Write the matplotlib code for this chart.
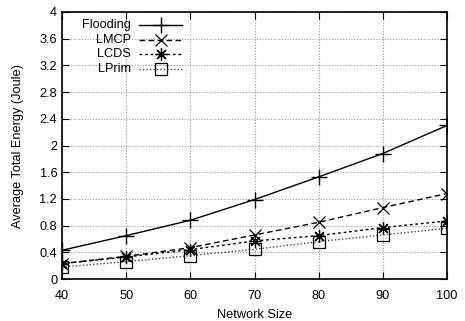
import matplotlib
matplotlib.use("Agg")
import matplotlib.pyplot as plt
from matplotlib.ticker import FuncFormatter
from matplotlib.lines import Line2D

plt.rcParams['font.family'] = ['Liberation Sans', 'DejaVu Sans']

network_size = [40, 50, 60, 70, 80, 90, 100]
flooding = [0.43, 0.65, 0.88, 1.19, 1.53, 1.88, 2.30]
lmcp = [0.23, 0.34, 0.47, 0.66, 0.85, 1.07, 1.28]
lcds = [0.23, 0.33, 0.44, 0.57, 0.65, 0.77, 0.87]
lprim = [0.18, 0.26, 0.35, 0.445, 0.56, 0.66, 0.76]
labels = ['Flooding', 'LMCP', 'LCDS', 'LPrim']

FS = 9.2

fig = plt.figure(figsize=(4.65, 3.21), dpi=100)
ax = fig.add_axes([62/465, 42/321, (447-62)/465, (279-12)/321])

styles = [
    dict(color='black', lw=1.0, ls='-', marker='+', ms=11, mew=1.0),
    dict(color='black', lw=1.0, ls=(0, (4, 2.5)), marker='x', ms=9, mew=0.9),
    dict(color='black', lw=1.0, ls=(0, (2, 2)), marker=(8, 2, 0), ms=9, mew=0.9),
    dict(color='#444444', lw=1.0, ls=(0, (1, 1.5)), marker='s', ms=9, mew=0.9, mfc='none', mec='black'),
]
series = [flooding, lmcp, lcds, lprim]
for vals, st, lab in zip(series, styles, labels):
    ax.plot(network_size, vals, label=lab, **st)

ax.set_xlim(40, 100)
ax.set_ylim(0, 4)
ax.set_xticks(network_size)
ax.set_yticks([0, 0.4, 0.8, 1.2, 1.6, 2, 2.4, 2.8, 3.2, 3.6, 4])
ax.yaxis.set_major_formatter(FuncFormatter(lambda v, p: '%g' % round(v, 1)))
ax.grid(True, color='#999999', ls=(0, (1, 1.5)), lw=0.8)
ax.tick_params(direction='in', top=True, right=True, length=5, labelsize=FS, width=0.8)
ax.tick_params(axis='x', pad=8)
for s in ax.spines.values():
    s.set_linewidth(1.2)

ax.set_xlabel('Network Size', fontsize=FS, labelpad=5)
ax.set_ylabel('Average Total Energy (Joule)', fontsize=FS, labelpad=11)

# gnuplot-style key: right-aligned labels, sample to the right
rows = [0.951, 0.896, 0.842, 0.785]
for yy, st, lab in zip(rows, styles, labels):
    ax.text(0.179, yy, lab, transform=ax.transAxes, ha='right', va='center', fontsize=FS)
    line_st = {k: v for k, v in st.items() if k not in ('marker', 'ms', 'mew', 'mfc', 'mec')}
    ax.add_line(Line2D([0.2, 0.312], [yy, yy], transform=ax.transAxes, **line_st))
    mk_st = {k: v for k, v in st.items() if k not in ('ls', 'lw')}
    ax.add_line(Line2D([0.256], [yy], transform=ax.transAxes, ls='none', **mk_st))

fig.savefig('out.png', dpi=100)
